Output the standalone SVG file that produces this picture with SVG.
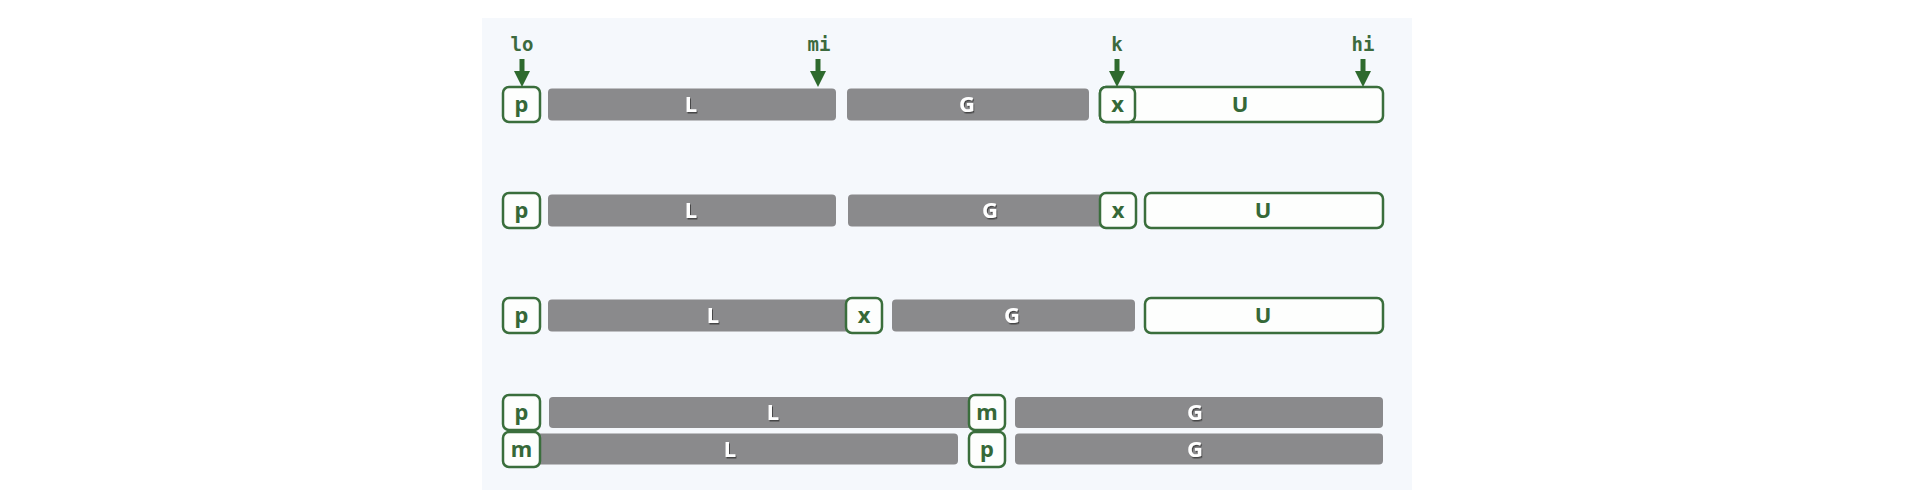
<svg xmlns="http://www.w3.org/2000/svg" width="1918" height="492" viewBox="0 0 1918 492">
<style>
.bg{fill:#f5f8fc}
.bar{fill:#8a8a8c}
.box{fill:#fdfefd;stroke:#3a6e3c;stroke-width:2.5}
.bt{font-family:"Noto Sans","DejaVu Sans",sans-serif;font-weight:bold;font-size:22px;fill:#ffffff;text-anchor:middle;filter:url(#ts)}
.gt{font-family:"Noto Sans","DejaVu Sans",sans-serif;font-weight:bold;font-size:22px;fill:#356838;text-anchor:middle}
.lbl{font-family:"DejaVu Sans Mono","Liberation Mono",monospace;font-weight:bold;font-size:19px;fill:#3c6a3e;text-anchor:middle}
.ptr{stroke:#2e6a2e;stroke-width:5;fill:none}
</style>
<defs>
<filter id="ts" x="-50%" y="-50%" width="200%" height="200%">
<feDropShadow dx="1" dy="1.5" stdDeviation="0.7" flood-color="#2a2a2a" flood-opacity="0.7"/>
</filter>
<filter id="soft" x="-5%" y="-20%" width="110%" height="140%">
<feGaussianBlur stdDeviation="0.7"/>
</filter>
<marker id="ah" viewBox="0 0 16 16" refX="0" refY="8" markerWidth="16" markerHeight="17" markerUnits="userSpaceOnUse" orient="auto">
<path d="M0,0 L16,8 L0,16 z" fill="#2e6a2e"/>
</marker>
</defs>
<rect class="bg" x="482" y="18" width="930" height="472"/>

<!-- Row 1 -->
<g id="r1-p"><rect class="box" x="503" y="87" width="37" height="35" rx="6"/><text class="gt" x="521.5" y="112">p</text></g>
<g id="r1-L"><rect class="bar" x="548" y="88.5" width="288" height="32" rx="4" filter="url(#soft)"/><text class="bt" x="691" y="112">L</text></g>
<g id="r1-G"><rect class="bar" x="847" y="88.5" width="242" height="32" rx="4" filter="url(#soft)"/><text class="bt" x="967" y="112">G</text></g>
<g id="r1-U"><rect class="box" x="1100" y="87" width="283" height="35" rx="6"/><text class="gt" x="1240" y="112">U</text></g>
<g id="r1-x"><rect class="box" x="1100" y="87" width="35" height="35" rx="6"/><text class="gt" x="1117.5" y="112">x</text></g>
<g id="lbl-lo"><text class="lbl" x="522" y="51">lo</text></g>
<g id="lbl-mi"><text class="lbl" x="819" y="51">mi</text></g>
<g id="lbl-k"><text class="lbl" x="1117" y="51">k</text></g>
<g id="lbl-hi"><text class="lbl" x="1363" y="51">hi</text></g>

<!-- Row 2 -->
<g id="r2-p"><rect class="box" x="503" y="193" width="37" height="35" rx="6"/><text class="gt" x="521.5" y="218">p</text></g>
<g id="r2-L"><rect class="bar" x="548" y="194.5" width="288" height="32" rx="4" filter="url(#soft)"/><text class="bt" x="691" y="218">L</text></g>
<g id="r2-G"><rect class="bar" x="848" y="194.5" width="256" height="32" rx="4" filter="url(#soft)"/><text class="bt" x="990" y="218">G</text></g>
<g id="r2-x"><rect class="box" x="1100" y="193" width="36" height="35" rx="6"/><text class="gt" x="1118" y="218">x</text></g>
<g id="r2-U"><rect class="box" x="1145" y="193" width="238" height="35" rx="6"/><text class="gt" x="1263" y="218">U</text></g>

<!-- Row 3 -->
<g id="r3-p"><rect class="box" x="503" y="298" width="37" height="35" rx="6"/><text class="gt" x="521.5" y="323">p</text></g>
<g id="r3-L"><rect class="bar" x="548" y="299.5" width="302" height="32" rx="4" filter="url(#soft)"/><text class="bt" x="713" y="323">L</text></g>
<g id="r3-x"><rect class="box" x="846" y="298" width="36" height="35" rx="6"/><text class="gt" x="864" y="323">x</text></g>
<g id="r3-G"><rect class="bar" x="892" y="299.5" width="243" height="32" rx="4" filter="url(#soft)"/><text class="bt" x="1012" y="323">G</text></g>
<g id="r3-U"><rect class="box" x="1145" y="298" width="238" height="35" rx="6"/><text class="gt" x="1263" y="323">U</text></g>

<!-- Row 4a -->
<g id="r4a-L"><rect class="bar" x="549" y="397" width="424" height="31" rx="4" filter="url(#soft)"/><text class="bt" x="773" y="420">L</text></g>
<g id="r4a-p"><rect class="box" x="503" y="395" width="37" height="35" rx="6"/><text class="gt" x="521.5" y="420">p</text></g>
<g id="r4a-m"><rect class="box" x="969" y="395" width="36" height="35" rx="6"/><text class="gt" x="987" y="420">m</text></g>
<g id="r4a-G"><rect class="bar" x="1015" y="397" width="368" height="31" rx="4" filter="url(#soft)"/><text class="bt" x="1195" y="420">G</text></g>

<!-- Row 4b -->
<g id="r4b-L"><rect class="bar" x="528" y="433.5" width="430" height="31" rx="4" filter="url(#soft)"/><text class="bt" x="730" y="457">L</text></g>
<g id="r4b-m"><rect class="box" x="503" y="432" width="37" height="35" rx="6"/><text class="gt" x="521.5" y="457">m</text></g>
<g id="r4b-p"><rect class="box" x="969" y="432" width="36" height="35" rx="6"/><text class="gt" x="987" y="457">p</text></g>
<g id="r4b-G"><rect class="bar" x="1015" y="433.5" width="368" height="31" rx="4" filter="url(#soft)"/><text class="bt" x="1195" y="457">G</text></g>

<g id="connectors">
<line class="ptr" x1="522" y1="59" x2="522" y2="71" marker-end="url(#ah)"/>
<line class="ptr" x1="818" y1="59" x2="818" y2="71" marker-end="url(#ah)"/>
<line class="ptr" x1="1117" y1="59" x2="1117" y2="71" marker-end="url(#ah)"/>
<line class="ptr" x1="1363" y1="59" x2="1363" y2="71" marker-end="url(#ah)"/>
</g>
</svg>
